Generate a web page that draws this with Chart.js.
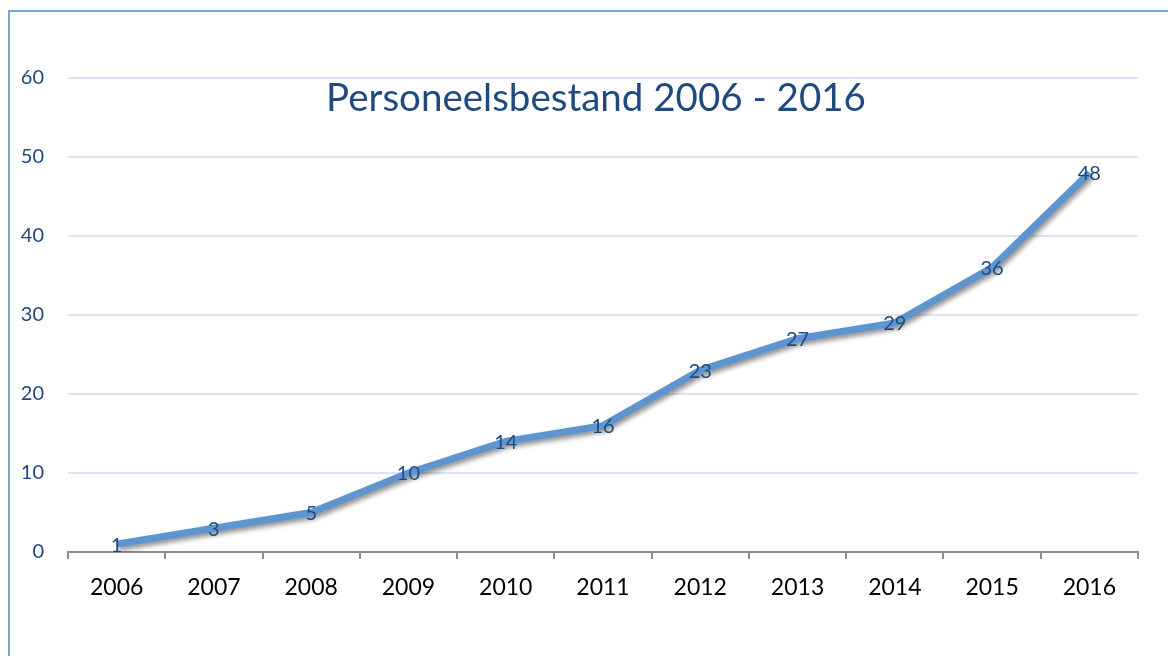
<!DOCTYPE html>
<html>
<head>
<meta charset="utf-8">
<script src="https://cdn.jsdelivr.net/npm/chart.js@4"></script>
<style>
  html, body { margin: 0; padding: 0; background: #fff; overflow: hidden; }
  #frame {
    position: absolute; left: 8px; top: 10px; width: 1180px; height: 680px;
    border: 2px solid #78a6dc; box-sizing: border-box;
  }
  #wrap { position: absolute; left: 0; top: 0; width: 1168px; height: 656px; }
</style>
</head>
<body>
<div id="frame"></div>
<div id="wrap"><canvas id="chart" width="1168" height="656"></canvas></div>
<script>
    // Chart data
    const years = ['2006', '2007', '2008', '2009', '2010', '2011', '2012', '2013', '2014', '2015', '2016'];
    const staff = [1, 3, 5, 10, 14, 16, 23, 27, 29, 36, 48];
    const titleText = 'Personeelsbestand 2006 - 2016';

    const FONT = 'Lato, "Open Sans", sans-serif';
    const DARK_BLUE = '#1f4a80';

    // Shadow under the line
    const lineShadow = {
        id: 'lineShadow',
        beforeDatasetDraw(chart) {
            const ctx = chart.ctx;
            ctx.save();
            ctx.shadowColor = 'rgba(0,0,0,0.45)';
            ctx.shadowBlur = 5;
            ctx.shadowOffsetX = 2;
            ctx.shadowOffsetY = 3;
        },
        afterDatasetDraw(chart) {
            chart.ctx.restore();
        }
    };

    // Value labels centered on points + title in the plot area
    const labelsAndTitle = {
        id: 'labelsAndTitle',
        afterDatasetsDraw(chart) {
            const ctx = chart.ctx;
            const meta = chart.getDatasetMeta(0);
            ctx.save();
            ctx.fillStyle = DARK_BLUE;
            ctx.font = '20px ' + FONT;
            ctx.textAlign = 'center';
            ctx.textBaseline = 'middle';
            meta.data.forEach((pt, i) => {
                ctx.fillText(String(staff[i]), pt.x, pt.y + 1);
            });
            const area = chart.chartArea;
            ctx.font = '38.5px ' + FONT;
            ctx.fillText(titleText, (area.left + area.right) / 2 - 7, area.top + 21);
            ctx.restore();
        }
    };

    new Chart(document.getElementById('chart').getContext('2d'), {
        type: 'line',
        data: {
            labels: years,
            datasets: [{
                data: staff,
                borderColor: '#5f95cf',
                borderWidth: 7,
                pointRadius: 0,
                tension: 0,
                fill: false
            }]
        },
        options: {
            responsive: false,
            animation: false,
            layout: { padding: { left: 0, right: 30, top: 78, bottom: 0 } },
            plugins: { legend: { display: false }, tooltip: { enabled: false } },
            scales: {
                x: {
                    offset: true,
                    afterFit(scale) { scale.height = 104; },
                    grid: {
                        offset: true,
                        drawOnChartArea: false,
                        drawTicks: true,
                        tickLength: 7,
                        color: '#8c8c8c',
                        lineWidth: 2
                    },
                    border: { display: true, color: '#8c8c8c', width: 2 },
                    ticks: {
                        color: '#000',
                        font: { family: FONT, size: 23 },
                        padding: 15,
                        maxRotation: 0
                    }
                },
                y: {
                    min: 0,
                    max: 60,
                    afterFit(scale) { scale.width = 68; },
                    grid: { color: '#dbe6f4', lineWidth: 2, drawTicks: false },
                    border: { display: false },
                    ticks: {
                        stepSize: 10,
                        color: DARK_BLUE,
                        font: { family: FONT, size: 20 },
                        padding: 24
                    }
                }
            }
        },
        plugins: [lineShadow, labelsAndTitle]
    });
</script>
</body>
</html>
